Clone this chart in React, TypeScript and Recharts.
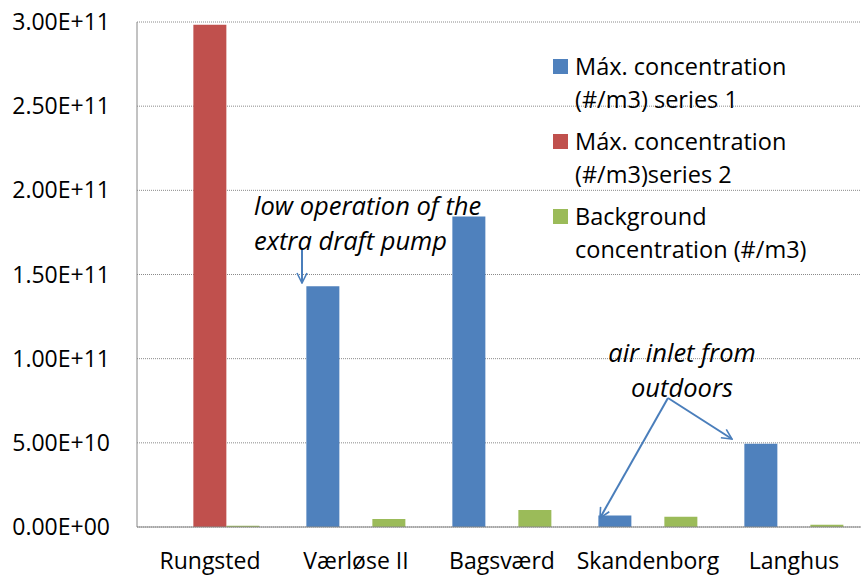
import React from 'react';
import {
  BarChart,
  Bar,
  CartesianGrid,
  XAxis,
  YAxis,
  Legend,
} from 'recharts';

const sites = ['Rungsted', 'Værløse II', 'Bagsværd', 'Skandenborg', 'Langhus'];
const maxSeries1 = [null, 1.43e11, 1.844e11, 6.9e9, 4.95e10];
const maxSeries2 = [2.983e11, null, null, null, null];
const background = [8e8, 4.8e9, 1.01e10, 6.1e9, 1.4e9];
const yTicks = [0, 5e10, 1e11, 1.5e11, 2e11, 2.5e11, 3e11];

const seriesNames = [
  'Máx. concentration (#/m3) series 1',
  'Máx. concentration (#/m3)series 2',
  'Background concentration (#/m3)',
];
const legendLines = [
  ['Máx. concentration', '(#/m3) series 1'],
  ['Máx. concentration', '(#/m3)series 2'],
  ['Background', 'concentration (#/m3)'],
];
const colors = ['#4F81BD', '#C0504D', '#9BBB59'];

const data = sites.map((site, i) => ({
  site,
  s1: maxSeries1[i],
  s2: maxSeries2[i],
  bg: background[i],
}));

const font = '"Open Sans", sans-serif';

function sci(v: number) {
  const [m, e] = v.toExponential(2).split('e');
  const sign = e[0] === '-' ? '-' : '+';
  const digits = e.replace(/[+-]/, '').padStart(2, '0');
  return `${m}E${sign}${digits}`;
}

function LegendBox() {
  return (
    <div style={{ fontFamily: font, fontSize: 23.5, color: '#000' }}>
      {legendLines.map((lines, i) => (
        <div key={i} style={{ position: 'relative', height: 75 }}>
          <div
            style={{
              position: 'absolute',
              left: 0,
              top: 9,
              width: 15,
              height: 15,
              background: colors[i],
            }}
          />
          <div style={{ position: 'absolute', left: 22, top: 0, lineHeight: '33px', whiteSpace: 'nowrap' }}>
            {lines.map((l) => (
              <div key={l}>{l}</div>
            ))}
          </div>
        </div>
      ))}
    </div>
  );
}

function Notes() {
  const blue = '#4A7EBB';
  return (
    <svg
      width={861}
      height={576}
      style={{ position: 'absolute', left: 0, top: 0, pointerEvents: 'none' }}
    >
      <defs>
        <marker id="arr" viewBox="0 0 12 12" refX="11" refY="6" markerWidth="12" markerHeight="12" orient="auto" markerUnits="userSpaceOnUse">
          <path d="M1,1 L11,6 L1,11" fill="none" stroke={blue} strokeWidth={1.6} />
        </marker>
      </defs>
      <g fontFamily={font} fontStyle="italic" fontSize={25.5} fill="#000">
        <text x={254} y={215}>low operation of the</text>
        <text x={254} y={250}>extra draft pump</text>
        <text x={682} y={362} textAnchor="middle">air inlet from</text>
        <text x={682} y={397} textAnchor="middle">outdoors</text>
      </g>
      <line x1={302} y1={250} x2={302} y2={283} stroke={blue} strokeWidth={2} markerEnd="url(#arr)" />
      <line x1={668} y1={398} x2={600} y2={518} stroke={blue} strokeWidth={2} markerEnd="url(#arr)" />
      <line x1={668} y1={398} x2={732} y2={439} stroke={blue} strokeWidth={2} markerEnd="url(#arr)" />
    </svg>
  );
}

export default function App() {
  return (
    <div
      style={{
        position: 'absolute',
        left: 0,
        top: 0,
        width: 861,
        height: 576,
        overflow: 'hidden',
        background: '#fff',
      }}
    >
      <BarChart
        width={870}
        height={576}
        data={data}
        margin={{ top: 22, right: 3, left: 0, bottom: 9 }}
        barCategoryGap="16%"
        barGap={0}
      >
        <CartesianGrid vertical={false} stroke="#8a8a8a" strokeDasharray="1 1" />
        <XAxis
          dataKey="site"
          height={40}
          tickLine={false}
          tickSize={0}
          tickMargin={26}
          axisLine={{ stroke: '#868686' }}
          tick={{ fill: '#000', fontSize: 23, fontFamily: font }}
        />
        <YAxis
          width={137}
          domain={[0, 3e11]}
          ticks={yTicks}
          tickFormatter={sci}
          tickLine={false}
          tickSize={0}
          tickMargin={27}
          axisLine={{ stroke: '#868686' }}
          tick={{ fill: '#000', fontSize: 23, fontFamily: font }}
        />
        <Legend
          layout="vertical"
          align="center"
          verticalAlign="middle"
          wrapperStyle={{ left: 553, top: 50, width: 310 }}
          content={() => <LegendBox />}
        />
        <Bar dataKey="s1" name={seriesNames[0]} fill={colors[0]} isAnimationActive={false} />
        <Bar dataKey="s2" name={seriesNames[1]} fill={colors[1]} isAnimationActive={false} />
        <Bar dataKey="bg" name={seriesNames[2]} fill={colors[2]} isAnimationActive={false} />
      </BarChart>
      <Notes />
    </div>
  );
}
